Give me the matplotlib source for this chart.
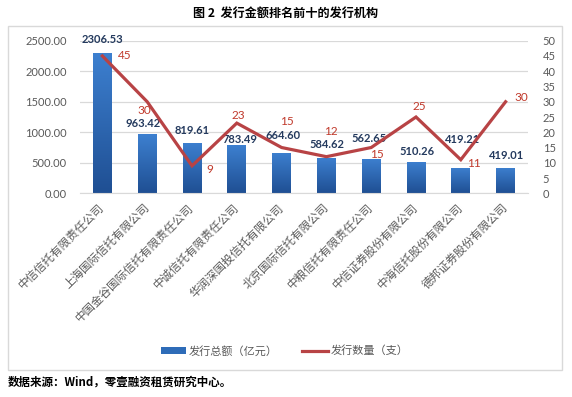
import numpy as np
import matplotlib
matplotlib.use("Agg")
import matplotlib.pyplot as plt
from matplotlib.patches import Rectangle, Patch
from matplotlib.lines import Line2D
from matplotlib.colors import LinearSegmentedColormap

plt.rcParams['font.family'] = ['Noto Sans CJK SC', 'DejaVu Sans']

# ---- data ----
categories = ['中信信托有限责任公司', '上海国际信托有限公司', '中国金谷国际信托有限责任公司',
              '中诚信托有限责任公司', '华润深国投信托有限公司', '北京国际信托有限公司',
              '中粮信托有限责任公司', '中信证券股份有限公司', '中海信托股份有限公司',
              '德邦证券股份有限公司']
amounts = [2306.53, 963.42, 819.61, 783.49, 664.60, 584.62, 562.65, 510.26, 419.21, 419.01]
counts = [45, 30, 9, 23, 15, 12, 15, 25, 11, 30]
left_ticks = [0, 500, 1000, 1500, 2000, 2500]
right_ticks = [0, 5, 10, 15, 20, 25, 30, 35, 40, 45, 50]
series_names = ['发行总额（亿元）', '发行数量（支）']
title = '图 2  发行金额排名前十的发行机构'
source = '数据来源：Wind，零壹融资租赁研究中心。'

# label offsets in pixels (dx, dy up)
bar_label_off = [(0, 13), (-4, 11), (0, 13), (3, 6), (1, 17), (1, 13), (-2, 20), (1, 11), (2, 28), (1, 12)]
line_label_off = [(22, 0), (-3, -9), (18, -4), (2, 8), (5, 26), (4, 25), (6, -7), (3, 10), (13, -4), (16, 4)]

W, H = 572, 397
fig = plt.figure(figsize=(W / 100, H / 100), dpi=100)
fig.patch.set_facecolor('white')

# outer frame
fig.patches.append(Rectangle((8 / W, 1 - 370 / H), (562 - 8) / W, (370 - 26) / H,
                             transform=fig.transFigure, fill=False,
                             edgecolor='#D9D9D9', lw=1.0))

ax = fig.add_axes([80 / W, 1 - 193.3 / H, (528 - 80) / W, (193.3 - 40.7) / H])
x = np.arange(len(categories))
bars = ax.bar(x, amounts, width=0.42, color='#2E6CB8', zorder=2)

# gradient fill for bars
cmap = LinearSegmentedColormap.from_list('g', ['#1F4F93', '#3D80D0'])
grad = np.linspace(0, 1, 256).reshape(-1, 1)
for b in bars:
    x0, y0 = b.get_x(), b.get_y()
    im = ax.imshow(grad, extent=[x0, x0 + b.get_width(), y0, y0 + b.get_height()],
                   origin='lower', aspect='auto', cmap=cmap, zorder=2.1)
    im.set_clip_path(b)

ax.set_xlim(-0.5, len(categories) - 0.5)
ax.set_ylim(0, 2500)
ax.set_yticks(left_ticks)
ax.set_yticklabels([f'{v:.2f}' for v in left_ticks], family=['Lato', 'DejaVu Sans'],
                   fontsize=8, color='#595959')
ax.yaxis.grid(True, color='#D9D9D9', lw=0.9, zorder=0)
ax.set_axisbelow(True)
ax.tick_params(axis='y', length=0, pad=9.4)
ax.tick_params(axis='x', length=0, pad=9)
ax.set_xticks(x)
ax.set_xticklabels(categories, rotation=45, ha='right', va='center',
                   rotation_mode='anchor', fontsize=8.3, color='#595959')
for s in ['left', 'right', 'top']:
    ax.spines[s].set_visible(False)
ax.spines['bottom'].set_color('#D9D9D9')

for i, v in enumerate(amounts):
    dx, dy = bar_label_off[i]
    ax.annotate(f'{v:.2f}', (x[i], v), xytext=(dx, dy), textcoords='offset pixels',
                ha='center', va='center', fontsize=8, fontweight='bold',
                color='#243A5E', family=['Lato', 'DejaVu Sans'], zorder=5)

ax2 = ax.twinx()
ax2.plot(x, counts, color='#B84345', lw=2.3, zorder=4, solid_joinstyle='miter')
ax2.set_ylim(0, 50)
ax2.set_yticks(right_ticks)
ax2.set_yticklabels([str(v) for v in right_ticks], family=['Lato', 'DejaVu Sans'],
                    fontsize=8, color='#595959')
ax2.tick_params(axis='y', length=0, pad=10.5)
for s in ['left', 'right', 'top', 'bottom']:
    ax2.spines[s].set_visible(False)

for i, v in enumerate(counts):
    dx, dy = line_label_off[i]
    ax2.annotate(str(v), (x[i], v), xytext=(dx, dy), textcoords='offset pixels',
                 ha='center', va='center', fontsize=8.5, color='#C0392B',
                 family=['Lato', 'DejaVu Sans'], zorder=6)

# legend
handles = [Patch(facecolor='#2E6CB8', edgecolor='none'),
           Line2D([0], [0], color='#B84345', lw=2.3)]
fig.legend(handles, series_names, loc='center', bbox_to_anchor=(284.5 / W, 1 - 351 / H),
           ncol=2, frameon=False, fontsize=8, labelcolor='#595959',
           handlelength=2.3, handleheight=0.6, handletextpad=0.25, columnspacing=2.2)

fig.text(286 / W, 1 - 13 / H, title, ha='center', va='center', fontsize=8.7,
         fontweight='bold', color='#000000')
fig.text(8 / W, 1 - 382 / H, source, ha='left', va='center', fontsize=8.3,
         fontweight='bold', color='#000000')

fig.savefig('out.png', dpi=100)
